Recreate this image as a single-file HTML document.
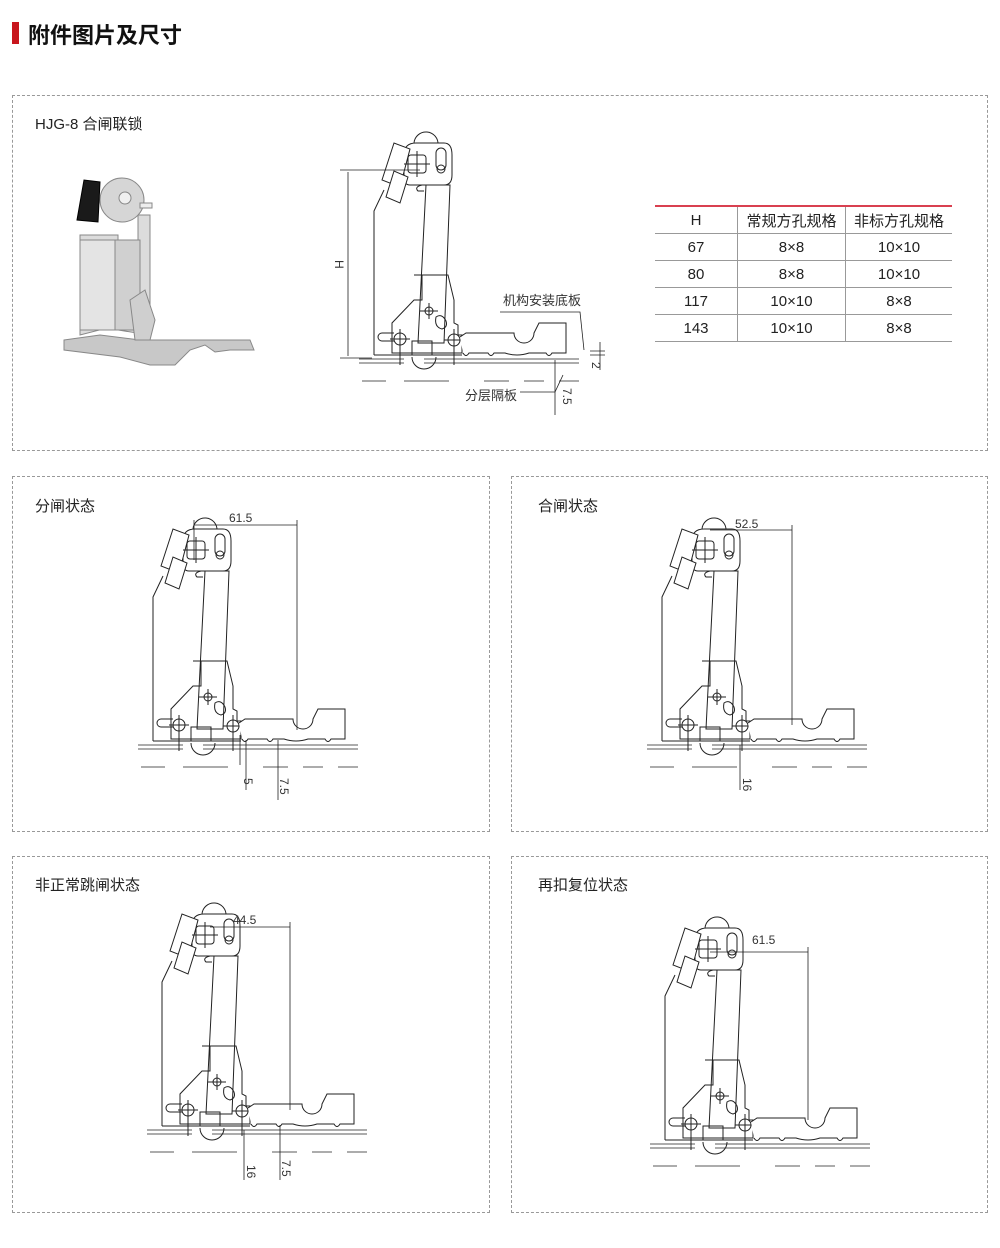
<!DOCTYPE html>
<html><head><meta charset="utf-8"><style>
body{margin:0;width:1000px;height:1248px;background:#fff;position:relative;font-family:"Liberation Sans","Noto Sans CJK SC",sans-serif;color:#222;overflow:hidden}
.p{position:absolute;border:1px dashed #999;box-sizing:border-box}
.t{position:absolute;font-size:15px;color:#222}
table{position:absolute;left:655px;top:205px;width:297px;border-collapse:collapse;font-size:15px;border-top:2px solid #d94050}
td{height:26px;text-align:center;border-bottom:1px solid #999;padding:0}
td+td{border-left:1px solid #999}
</style></head><body>
<div style="position:absolute;left:12px;top:22px;width:7px;height:22px;background:#c8161d"></div>
<div style="position:absolute;left:28px;top:18px;font-size:22px;font-weight:bold;color:#111">附件图片及尺寸</div>
<div class="p" style="left:12px;top:95px;width:976px;height:356px"></div>
<div class="p" style="left:12px;top:476px;width:478px;height:356px"></div>
<div class="p" style="left:511px;top:476px;width:477px;height:356px"></div>
<div class="p" style="left:12px;top:856px;width:478px;height:357px"></div>
<div class="p" style="left:511px;top:856px;width:477px;height:357px"></div>
<div class="t" style="left:35px;top:113px">HJG-8 合闸联锁</div>
<div class="t" style="left:35px;top:495px">分闸状态</div>
<div class="t" style="left:538px;top:495px">合闸状态</div>
<div class="t" style="left:35px;top:874px">非正常跳闸状态</div>
<div class="t" style="left:538px;top:874px">再扣复位状态</div>
<table>
<tr><td style="width:82px">H</td><td style="width:107px">常规方孔规格</td><td>非标方孔规格</td></tr>
<tr><td>67</td><td>8×8</td><td>10×10</td></tr>
<tr><td>80</td><td>8×8</td><td>10×10</td></tr>
<tr><td>117</td><td>10×10</td><td>8×8</td></tr>
<tr><td>143</td><td>10×10</td><td>8×8</td></tr>
</table>
<svg width="1000" height="1248" style="position:absolute;left:0;top:0" font-family="Liberation Sans, Noto Sans CJK SC, sans-serif">
<defs>
<g id="m" fill="none" stroke="#222" stroke-width="1">
<path d="M0,0 V-144 L10,-165"/>
<path d="M40,-212 A12,12 0 0 1 64,-210" />
<path d="M30,-200 Q30,-212 42,-212 H70 Q78,-212 78,-200 V-180 Q78,-170 70,-170 H36 Q30,-170 30,-178 Z" fill="#fff"/>
<polygon points="8,-175 20,-212 36,-206 26,-168" fill="#fff"/>
<polygon points="12,-158 20,-184 34,-178 26,-152" fill="#fff"/>
<rect x="34" y="-200" width="18" height="18" rx="3"/>
<path d="M43,-204 V-178 M30,-191 H56"/>
<rect x="62" y="-207" width="10" height="22" rx="5"/>
<circle cx="67" cy="-186" r="4"/>
<path d="M48,-170 Q40,-168 44,-164 H50"/>
<polygon points="52,-170 76,-170 70,-12 44,-12" fill="#fff"/>
<polygon points="40,-80 48,-80 48,-55 40,-55 18,-32 18,-2 88,-2 88,-20 84,-20 84,-30 80,-32 80,-55 74,-80 70,-80" fill="none"/>
<path d="M8,-22 H20 M8,-14 H20 M8,-22 A4,4 0 0 0 8,-14"/>
<circle cx="26" cy="-16" r="6"/><path d="M26,-26 V10 M16,-16 H36"/>
<circle cx="55" cy="-44" r="4"/><path d="M46,-44 H64 M55,-52 V-36"/>
<circle cx="80" cy="-15" r="6"/><path d="M80,-26 V10 M70,-15 H92"/>
<path d="M62,-38 q6,-4 10,4 q2,6 -4,8 q-8,-2 -6,-12z"/>
<path d="M86,-18 L92,-22 H140 A10,10 0 0 0 160,-22 L165,-32 H192 V-2 H178 q-3,5 -6,0 H155 q-12,4 -24,0 H120 q-3,5 -6,0 H95 q-3,5 -6,0" fill="#fff"/>
<rect x="38" y="-14" width="20" height="14"/>
<path d="M38,2 A12,12 0 0 0 62,2"/>
<path d="M0,0 H88"/>
<path d="M-15,4 H30 M50,4 H205 M-15,8 H30 M50,8 H205" stroke-width="0.8"/>
<path d="M-12,26 H12 M30,26 H75 M110,26 H135 M150,26 H170 M185,26 H205" stroke-width="0.8"/>
</g>
</defs>
<use href="#m" x="374" y="355"/>
<use href="#m" x="153" y="741"/>
<use href="#m" x="662" y="741"/>
<use href="#m" x="162" y="1126"/>
<use href="#m" x="665" y="1140"/>
<g stroke="#222" stroke-width="0.8" fill="none">
<path d="M340,170 H420 M340,358 H372 M348,172 V356"/>
<path d="M500,312 H580 L584,350 M520,392 H555 L563,375"/>
<path d="M590,351 H605 M590,355 H605 M600,342 V370 M555,360 V415"/>
<path d="M194,525 H297 M194,520 V560 M297,520 V730"/>
<path d="M240,735 V765 M246,740 V790 M278,740 V800"/>
<path d="M710,530 H792 M792,525 V725 M740,745 V790"/>
<path d="M210,927 H290 M290,922 V1110 M244,1130 V1180 M280,1125 V1180"/>
<path d="M710,952 H808 M808,947 V1120"/>
</g>
<g font-size="12" fill="#333">
<text x="229" y="522">61.5</text>
<text x="735" y="528">52.5</text>
<text x="233" y="924">44.5</text>
<text x="752" y="944">61.5</text>
<text x="503" y="305" font-size="13">机构安装底板</text>
<text x="465" y="400" font-size="13">分层隔板</text>
<text transform="translate(335,260) rotate(90)">H</text>
<text transform="translate(592,362) rotate(90)">2</text>
<text transform="translate(563,388) rotate(90)">7.5</text>
<text transform="translate(244,778) rotate(90)">5</text>
<text transform="translate(280,778) rotate(90)">7.5</text>
<text transform="translate(743,778) rotate(90)">16</text>
<text transform="translate(247,1165) rotate(90)">16</text>
<text transform="translate(282,1160) rotate(90)">7.5</text>
</g>
<!-- photo approximation -->
<g stroke="#888" stroke-width="1">
<polygon points="80,335 80,235 118,235 118,330 150,335 150,215 138,215 138,320" fill="#dcdcdc"/>
<polygon points="80,240 120,240 120,330 80,330" fill="#e4e4e4"/>
<polygon points="115,240 140,240 140,330 115,330" fill="#d0d0d0"/>
<circle cx="122" cy="200" r="22" fill="#d6d6d6"/>
<circle cx="125" cy="198" r="6" fill="#f0f0f0"/>
<polygon points="77,220 84,180 100,182 98,222" fill="#1a1a1a" stroke="#000"/>
<polygon points="64,340 100,335 140,340 250,340 254,350 230,350 215,352 205,345 190,350 175,365 150,365 120,357 64,350" fill="#c8c8c8"/>
<polygon points="130,300 145,290 155,320 150,340 135,340" fill="#cfcfcf"/>
<rect x="140" y="203" width="12" height="5" fill="#eee"/>
</g>
</svg>
</body></html>
